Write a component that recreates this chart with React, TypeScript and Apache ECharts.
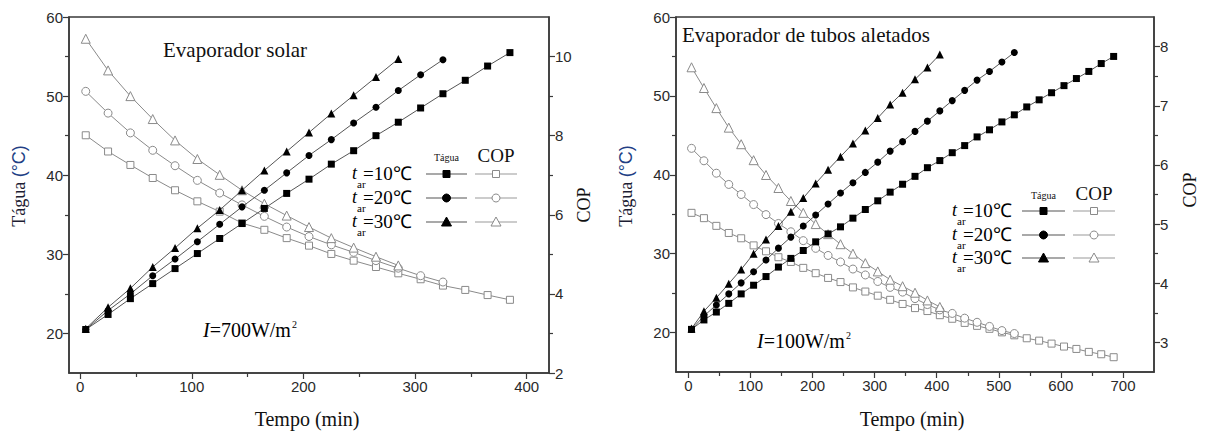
import React, { useEffect, useRef } from "react";
import * as echarts from "echarts";

// ---------- Data: left panel (Evaporador solar, I=700 W/m2) ----------
const timesLeft = [5, 25, 45, 65, 85, 105, 125, 145, 165, 185, 205, 225, 245, 265, 285, 305, 325, 345, 365, 385];
const taguaL10 = [20.5, 22.4, 24.4, 26.3, 28.2, 30.1, 32.0, 33.9, 35.8, 37.7, 39.5, 41.4, 43.1, 45.0, 46.7, 48.5, 50.3, 52.0, 53.8, 55.5];
const taguaL20 = [20.5, 22.9, 25.0, 27.3, 29.4, 31.6, 33.8, 36.0, 38.1, 40.3, 42.5, 44.5, 46.6, 48.6, 50.7, 52.7, 54.6];
const taguaL30 = [20.6, 23.3, 25.7, 28.4, 30.8, 33.3, 35.6, 38.1, 40.6, 43.0, 45.4, 47.8, 50.1, 52.4, 54.7];
const copL10 = [8.01, 7.6, 7.26, 6.93, 6.62, 6.34, 6.08, 5.79, 5.62, 5.41, 5.22, 5.01, 4.84, 4.68, 4.52, 4.37, 4.21, 4.1, 3.97, 3.85];
const copL20 = [9.12, 8.57, 8.07, 7.63, 7.24, 6.87, 6.55, 6.25, 5.96, 5.69, 5.45, 5.24, 5.05, 4.84, 4.65, 4.46, 4.3];
const copL30 = [10.45, 9.65, 9.0, 8.42, 7.88, 7.41, 7.01, 6.62, 6.28, 5.98, 5.69, 5.41, 5.17, 4.94, 4.72];

// ---------- Data: right panel (Evaporador de tubos aletados, I=100 W/m2) ----------
const timesRight = [5, 25, 45, 65, 85, 105, 125, 145, 165, 185, 205, 225, 245, 265, 285, 305, 325, 345, 365, 385, 405, 425, 445, 465, 485, 505, 525, 545, 565, 585, 605, 625, 645, 665, 685];
const taguaR10 = [20.4, 21.6, 22.6, 23.7, 24.9, 26.0, 27.1, 28.3, 29.4, 30.4, 31.5, 32.5, 33.4, 34.5, 35.6, 36.7, 37.8, 38.8, 39.8, 40.9, 41.8, 42.8, 43.7, 44.8, 45.7, 46.7, 47.6, 48.6, 49.5, 50.4, 51.3, 52.2, 53.1, 54.1, 55.0];
const taguaR20 = [20.4, 22.1, 23.5, 24.9, 26.3, 27.7, 29.2, 30.7, 32.1, 33.5, 34.9, 36.3, 37.7, 39.0, 40.3, 41.6, 43.0, 44.2, 45.5, 46.8, 48.1, 49.4, 50.7, 52.0, 53.1, 54.3, 55.5];
const taguaR30 = [20.5, 22.7, 24.4, 26.2, 28.0, 30.0, 31.8, 33.5, 35.3, 37.05, 38.9, 40.65, 42.3, 43.95, 45.6, 47.2, 48.9, 50.4, 52.1, 53.6, 55.25];
const copR10 = [5.19, 5.1, 4.97, 4.85, 4.76, 4.64, 4.54, 4.44, 4.36, 4.26, 4.17, 4.09, 4.02, 3.93, 3.86, 3.79, 3.72, 3.65, 3.58, 3.53, 3.46, 3.4, 3.33, 3.28, 3.23, 3.17, 3.12, 3.07, 3.03, 2.98, 2.93, 2.89, 2.84, 2.8, 2.75];
const copR20 = [6.28, 6.07, 5.86, 5.67, 5.5, 5.33, 5.16, 5.01, 4.87, 4.72, 4.59, 4.47, 4.36, 4.24, 4.14, 4.03, 3.93, 3.85, 3.74, 3.64, 3.55, 3.49, 3.41, 3.34, 3.27, 3.2, 3.15];
const copR30 = [7.65, 7.3, 6.96, 6.63, 6.35, 6.08, 5.83, 5.61, 5.39, 5.19, 5.0, 4.83, 4.66, 4.5, 4.34, 4.2, 4.06, 3.95, 3.84, 3.71, 3.6];

// ---------- Tick values ----------
const xTicksLeft = [0, 100, 200, 300, 400];
const xMinorLeft = [50, 150, 250, 350];
const xTicksRight = [0, 100, 200, 300, 400, 500, 600, 700];
const xMinorRight = [50, 150, 250, 350, 450, 550, 650];
const yTicksTagua = [20, 30, 40, 50, 60];
const yMinorTagua = [25, 35, 45, 55];
const yTicksCopLeft = [2, 4, 6, 8, 10];
const yMinorCopLeft = [3, 5, 7, 9];
const yTicksCopRight = [3, 4, 5, 6, 7, 8];
const yMinorCopRight = [3.5, 4.5, 5.5, 6.5, 7.5];

const legendRows = ["=10℃", "=20℃", "=30℃"];

const SERIF = "'Liberation Serif', 'Times New Roman', serif";
const SANS = "'Liberation Sans', Arial, sans-serif";
const AXIS_COLOR = "#3a3a3a";

const pair = (times: number[], vals: number[]) => vals.map((v, i) => [times[i], v]);

function majorAxis(gridIndex: number, position: string, min: number, max: number, ticks: number[]) {
  return {
    type: "value",
    gridIndex,
    position,
    min,
    max,
    splitLine: { show: false },
    axisLine: { show: true, onZero: false, lineStyle: { color: AXIS_COLOR, width: 1.5 } },
    axisTick: { show: true, length: 6, customValues: ticks, lineStyle: { color: AXIS_COLOR, width: 1.2 } },
    axisLabel: {
      show: true,
      customValues: ticks,
      fontFamily: SANS,
      fontSize: 15,
      color: "#2a2a2a",
      margin: 6,
    },
  };
}

function minorAxis(gridIndex: number, position: string, min: number, max: number, ticks: number[]) {
  return {
    type: "value",
    gridIndex,
    position,
    min,
    max,
    splitLine: { show: false },
    axisLine: { show: false, onZero: false },
    axisTick: { show: true, length: 4, customValues: ticks, lineStyle: { color: AXIS_COLOR, width: 1.2 } },
    axisLabel: { show: false },
  };
}

function taguaSeries(name: string, data: number[][], symbol: string, size: number, xi: number, yi: number) {
  return {
    name,
    type: "line",
    xAxisIndex: xi,
    yAxisIndex: yi,
    data,
    symbol,
    symbolSize: size,
    showSymbol: true,
    lineStyle: { color: "#555", width: 1 },
    itemStyle: { color: "#000", borderColor: "#000", borderWidth: 0 },
    z: 4,
  };
}

function copSeries(name: string, data: number[][], symbol: string, size: number, xi: number, yi: number) {
  return {
    name,
    type: "line",
    xAxisIndex: xi,
    yAxisIndex: yi,
    data,
    symbol,
    symbolSize: size,
    showSymbol: true,
    lineStyle: { color: "#8a8a8a", width: 1 },
    itemStyle: { color: "#fff", borderColor: "#8a8a8a", borderWidth: 1 },
    z: 3,
  };
}

function legendMarker(kind: string, cx: number, cy: number, filled: boolean) {
  const fill = filled ? "#000" : "#fff";
  const stroke = filled ? "#000" : "#8a8a8a";
  if (kind === "rect") {
    return { type: "rect", shape: { x: cx - 3.5, y: cy - 3.5, width: 7, height: 7 }, style: { fill, stroke, lineWidth: 1 }, z: 20 };
  }
  if (kind === "circle") {
    return { type: "circle", shape: { cx, cy, r: 4 }, style: { fill, stroke, lineWidth: 1 }, z: 20 };
  }
  return {
    type: "polygon",
    shape: { points: [[cx, cy - 5], [cx + 5, cy + 4], [cx - 5, cy + 4]] },
    style: { fill, stroke, lineWidth: 1 },
    z: 20,
  };
}

const subRich = {
  t: { fontFamily: SERIF, fontStyle: "italic", fontSize: 18, lineHeight: 32, verticalAlign: "middle", color: "#111" },
  s: { fontFamily: SERIF, fontSize: 11, lineHeight: 11, verticalAlign: "bottom", color: "#111", width: 6 },
  n: { fontFamily: SERIF, fontSize: 19, lineHeight: 32, verticalAlign: "middle", color: "#111" },
};

function buildLegend(
  textLeft: number,
  rowYs: number[],
  tagLine: [number, number],
  copLine: [number, number],
  headerY: number
) {
  const els: any[] = [];
  const kinds = ["rect", "circle", "triangle"];
  const tagMid = (tagLine[0] + tagLine[1]) / 2;
  const copMid = (copLine[0] + copLine[1]) / 2;
  els.push({
    type: "text",
    x: tagMid,
    y: headerY + 2,
    style: { text: "Tágua", font: `10px ${SERIF}`, fill: "#111", align: "center", verticalAlign: "middle" },
    z: 20,
  });
  els.push({
    type: "text",
    x: copMid,
    y: headerY,
    style: { text: "COP", font: `19px ${SERIF}`, fill: "#111", align: "center", verticalAlign: "middle" },
    z: 20,
  });
  rowYs.forEach((y, i) => {
    els.push({
      type: "text",
      x: textLeft,
      y,
      style: {
        text: `{t|t}{s|ar}{n|${legendRows[i]}}`,
        align: "left",
        verticalAlign: "middle",
        rich: subRich,
      },
      z: 20,
    });
    els.push({
      type: "line",
      shape: { x1: tagLine[0], y1: y + 1, x2: tagLine[1], y2: y + 1 },
      style: { stroke: "#555", lineWidth: 1.2 },
      z: 19,
    });
    els.push(legendMarker(kinds[i], tagMid, y + 1, true));
    els.push({
      type: "line",
      shape: { x1: copLine[0], y1: y + 1, x2: copLine[1], y2: y + 1 },
      style: { stroke: "#999", lineWidth: 1.2 },
      z: 19,
    });
    els.push(legendMarker(kinds[i], copMid, y + 1, false));
  });
  return els;
}

function yTitle(cx: number, cy: number) {
  return {
    type: "text",
    x: cx,
    y: cy,
    rotation: Math.PI / 2,
    style: {
      text: "{a|Tágua }{b|(°C)}",
      align: "center",
      verticalAlign: "middle",
      rich: {
        a: { fontFamily: SERIF, fontSize: 18, fill: "#1d1d33", color: "#1d1d33" },
        b: { fontFamily: SANS, fontSize: 18, fill: "#223f85", color: "#223f85" },
      },
    },
    z: 20,
  };
}

function irradiance(value: string, x: number, y: number) {
  return {
    type: "text",
    x,
    y,
    style: {
      text: `{i|I}{n|=${value}W/m}{p|2}`,
      align: "left",
      verticalAlign: "middle",
      rich: {
        i: { fontFamily: SERIF, fontStyle: "italic", fontSize: 20, lineHeight: 22, color: "#111" },
        n: { fontFamily: SERIF, fontSize: 20, lineHeight: 22, color: "#111" },
        p: { fontFamily: SERIF, fontSize: 10, lineHeight: 10, verticalAlign: "top", color: "#111", padding: [0, 0, 8, 1] },
      },
    },
    z: 20,
  };
}

function serifText(text: string, x: number, y: number, size: number, opts: any = {}) {
  return {
    type: "text",
    x,
    y,
    rotation: opts.rotation || 0,
    style: {
      text,
      font: `${opts.italic ? "italic " : ""}${size}px ${SERIF}`,
      fill: "#111",
      align: opts.align || "left",
      verticalAlign: "middle",
    },
    z: 20,
  };
}

export default function App() {
  const ref = useRef<HTMLDivElement>(null);

  useEffect(() => {
    if (!ref.current) return;
    const chart = echarts.init(ref.current, undefined, { renderer: "svg" });

    const graphic: any[] = [
      yTitle(19, 186),
      yTitle(626, 186),
      serifText("COP", 584, 205, 18, { rotation: Math.PI / 2, align: "center" }),
      serifText("COP", 1190, 190, 18, { rotation: Math.PI / 2, align: "center" }),
      serifText("Tempo (min)", 307, 419, 20, { align: "center" }),
      serifText("Tempo (min)", 912, 419, 20, { align: "center" }),
      serifText("Evaporador solar", 163, 50, 21),
      serifText("Evaporador de tubos aletados", 682, 35, 21),
      irradiance("700", 203, 330),
      irradiance("100", 757, 341),
      ...buildLegend(352, [173, 197, 221], [426, 467], [475, 517], 155),
      ...buildLegend(952, [210, 234, 257], [1022, 1065], [1073, 1115], 193),
    ];

    const option: any = {
      animation: false,
      backgroundColor: "#fff",
      grid: [
        { left: 69, top: 17, width: 480, height: 356, show: true, borderColor: AXIS_COLOR, borderWidth: 1.5, backgroundColor: "transparent" },
        { left: 676, top: 17, width: 478, height: 355, show: true, borderColor: AXIS_COLOR, borderWidth: 1.5, backgroundColor: "transparent" },
      ],
      xAxis: [
        majorAxis(0, "bottom", -10, 420, xTicksLeft),
        minorAxis(0, "bottom", -10, 420, xMinorLeft),
        majorAxis(1, "bottom", -20, 750, xTicksRight),
        minorAxis(1, "bottom", -20, 750, xMinorRight),
      ],
      yAxis: [
        majorAxis(0, "left", 15, 60, yTicksTagua),
        minorAxis(0, "left", 15, 60, yMinorTagua),
        majorAxis(0, "right", 2, 11, yTicksCopLeft),
        minorAxis(0, "right", 2, 11, yMinorCopLeft),
        majorAxis(1, "left", 15, 60, yTicksTagua),
        minorAxis(1, "left", 15, 60, yMinorTagua),
        majorAxis(1, "right", 2.5, 8.5, yTicksCopRight),
        minorAxis(1, "right", 2.5, 8.5, yMinorCopRight),
      ],
      series: [
        copSeries("COP L10", pair(timesLeft, copL10), "rect", 7, 0, 2),
        copSeries("COP L20", pair(timesLeft, copL20), "circle", 8, 0, 2),
        copSeries("COP L30", pair(timesLeft, copL30), "triangle", 9, 0, 2),
        taguaSeries("Tagua L10", pair(timesLeft, taguaL10), "rect", 7, 0, 0),
        taguaSeries("Tagua L20", pair(timesLeft, taguaL20), "circle", 7, 0, 0),
        taguaSeries("Tagua L30", pair(timesLeft, taguaL30), "triangle", 8, 0, 0),
        copSeries("COP R10", pair(timesRight, copR10), "rect", 7, 2, 6),
        copSeries("COP R20", pair(timesRight, copR20), "circle", 8, 2, 6),
        copSeries("COP R30", pair(timesRight, copR30), "triangle", 9, 2, 6),
        taguaSeries("Tagua R10", pair(timesRight, taguaR10), "rect", 7, 2, 4),
        taguaSeries("Tagua R20", pair(timesRight, taguaR20), "circle", 7, 2, 4),
        taguaSeries("Tagua R30", pair(timesRight, taguaR30), "triangle", 8, 2, 4),
      ],
      graphic,
    };

    chart.setOption(option);
    return () => chart.dispose();
  }, []);

  return (
    <div
      ref={ref}
      style={{ position: "absolute", left: 0, top: 0, width: 1205, height: 434 }}
    />
  );
}
